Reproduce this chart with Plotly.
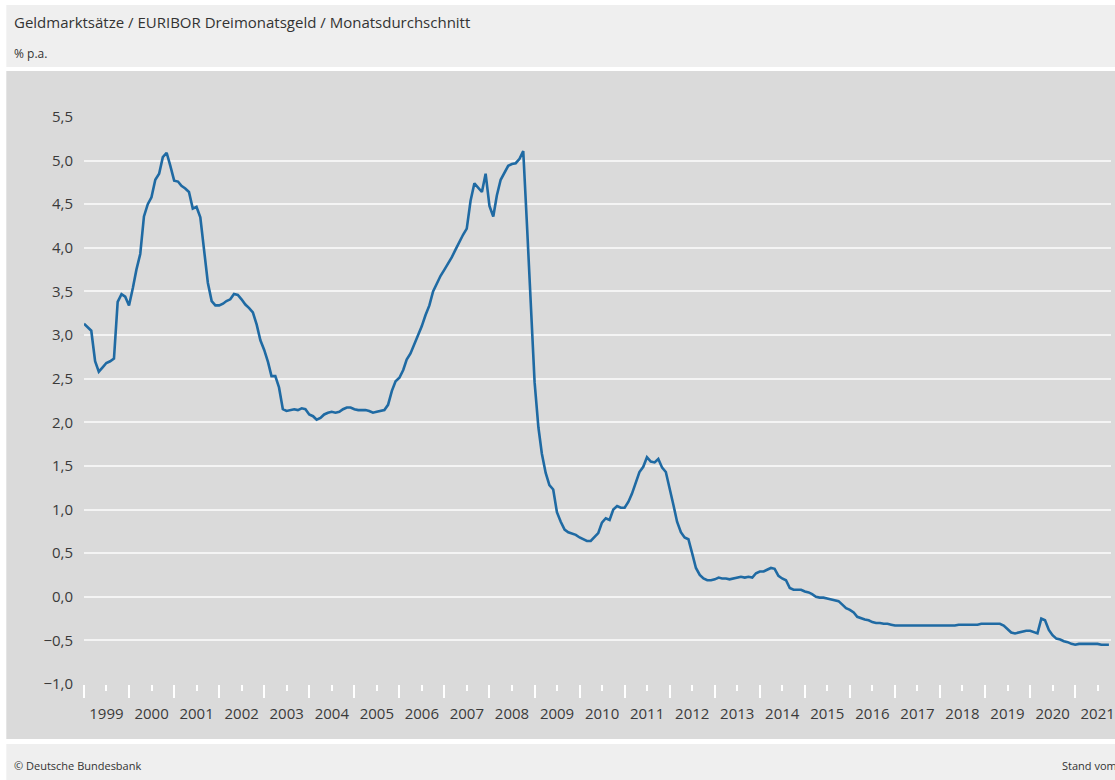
import pandas as pd
import plotly.graph_objects as go

# Monthly averages of 3-month EURIBOR, % p.a. (Jan 1999 onwards)
rates_1999_2004 = [
    3.13, 3.09, 3.05, 2.70, 2.58, 2.63, 2.68, 2.70, 2.73, 3.38, 3.47, 3.44,
    3.34, 3.54, 3.75, 3.93, 4.36, 4.50, 4.58, 4.78, 4.85, 5.04, 5.09, 4.94,
    4.77, 4.76, 4.71, 4.68, 4.64, 4.45, 4.47, 4.35, 3.98, 3.60, 3.39, 3.34,
    3.34, 3.36, 3.39, 3.41, 3.47, 3.46, 3.41, 3.35, 3.31, 3.26, 3.12, 2.94,
    2.83, 2.69, 2.53, 2.53, 2.40, 2.15, 2.13, 2.14, 2.15, 2.14, 2.16, 2.15,
    2.09, 2.07, 2.03, 2.05, 2.09, 2.11, 2.12, 2.11, 2.12, 2.15, 2.17, 2.17,
]
rates_2005_2010 = [
    2.15, 2.14, 2.14, 2.14, 2.13, 2.11, 2.12, 2.13, 2.14, 2.20, 2.36, 2.47,
    2.51, 2.60, 2.72, 2.79, 2.89, 2.99, 3.10, 3.23, 3.34, 3.50, 3.60, 3.68,
    3.75, 3.82, 3.89, 3.98, 4.07, 4.15, 4.22, 4.54, 4.74, 4.69, 4.64, 4.85,
    4.48, 4.36, 4.60, 4.78, 4.86, 4.94, 4.96, 4.97, 5.02, 5.11, 4.24, 3.29,
    2.46, 1.94, 1.64, 1.42, 1.28, 1.23, 0.97, 0.86, 0.77, 0.74, 0.72, 0.71,
    0.68, 0.66, 0.64, 0.64, 0.69, 0.73, 0.85, 0.90, 0.88, 1.00, 1.04, 1.02,
]
rates_2011_2016 = [
    1.02, 1.09, 1.18, 1.32, 1.43, 1.49, 1.60, 1.55, 1.54, 1.58, 1.48, 1.43,
    1.22, 1.05, 0.86, 0.74, 0.68, 0.66, 0.50, 0.33, 0.25, 0.21, 0.19, 0.19,
    0.20, 0.22, 0.21, 0.21, 0.20, 0.21, 0.22, 0.23, 0.22, 0.23, 0.22, 0.27,
    0.29, 0.29, 0.31, 0.33, 0.32, 0.24, 0.21, 0.19, 0.10, 0.08, 0.08, 0.08,
    0.06, 0.05, 0.03, 0.00, -0.01, -0.01, -0.02, -0.03, -0.04, -0.05, -0.09, -0.13,
    -0.15, -0.18, -0.23, -0.25, -0.26, -0.27, -0.29, -0.30, -0.30, -0.31, -0.31, -0.32,
]
rates_2017_2021 = [
    -0.33, -0.33, -0.33, -0.33, -0.33, -0.33, -0.33, -0.33, -0.33, -0.33, -0.33, -0.33,
    -0.33, -0.33, -0.33, -0.33, -0.33, -0.32, -0.32, -0.32, -0.32, -0.32, -0.32, -0.31,
    -0.31, -0.31, -0.31, -0.31, -0.31, -0.33, -0.37, -0.41, -0.42, -0.41, -0.40, -0.39,
    -0.39, -0.41, -0.42, -0.25, -0.27, -0.38, -0.44, -0.48, -0.49, -0.51, -0.52, -0.54,
    -0.55, -0.54, -0.54, -0.54, -0.54, -0.54, -0.54, -0.55, -0.55, -0.55,
]
rates = rates_1999_2004 + rates_2005_2010 + rates_2011_2016 + rates_2017_2021
months = pd.date_range("1999-01-01", periods=len(rates), freq="MS")

# Year labels sit in the middle of each year
years = list(range(1999, 2022))
year_mid = [f"{y}-07-02" for y in years]
year_labels = [str(y) for y in years]

title_text = "Geldmarktsätze / EURIBOR Dreimonatsgeld / Monatsdurchschnitt"
unit_text = "% p.a."
source_text = "© Deutsche Bundesbank"
stand_text = "Stand vom"

W, H = 1115, 780
L, R, T, B = 84, 0, 117, 96
pw, ph = W - L - R, H - T - B


def px_x(px):
    return (px - L) / pw


def px_y(py):
    return (H - B - py) / ph


FONT = "Open Sans, Noto Sans, sans-serif"
TXT = "#3a3a3a"

fig = go.Figure()
fig.add_trace(go.Scatter(
    x=months, y=rates, mode="lines",
    line=dict(color="#1f6aa3", width=2.6),
    hoverinfo="x+y", showlegend=False,
))

shapes = [
    dict(type="rect", xref="paper", yref="paper", layer="below",
         x0=px_x(6), x1=px_x(1130), y0=px_y(67), y1=px_y(5),
         fillcolor="#efefef", line=dict(width=0)),
    dict(type="rect", xref="paper", yref="paper", layer="below",
         x0=px_x(6), x1=px_x(1130), y0=px_y(739), y1=px_y(71),
         fillcolor="#dadada", line=dict(width=0)),
    dict(type="rect", xref="paper", yref="paper", layer="below",
         x0=px_x(6), x1=px_x(1130), y0=px_y(800), y1=px_y(744),
         fillcolor="#efefef", line=dict(width=0)),
]

annotations = [
    dict(text=title_text, xref="paper", yref="paper", x=px_x(12), y=px_y(22),
         xanchor="left", yanchor="middle", showarrow=False,
         font=dict(family=FONT, size=15, color="#333333")),
    dict(text=unit_text, xref="paper", yref="paper", x=px_x(12), y=px_y(53),
         xanchor="left", yanchor="middle", showarrow=False,
         font=dict(family=FONT, size=12, color="#333333")),
    dict(text=source_text, xref="paper", yref="paper", x=px_x(12), y=px_y(766),
         xanchor="left", yanchor="middle", showarrow=False,
         font=dict(family=FONT, size=11, color="#333333")),
    dict(text=stand_text, xref="paper", yref="paper", x=px_x(1064), y=px_y(766),
         xanchor="left", yanchor="middle", showarrow=False,
         font=dict(family=FONT, size=11, color="#333333")),
]

fig.update_layout(
    width=W, height=H,
    margin=dict(l=L, r=R, t=T, b=B, pad=0),
    paper_bgcolor="white",
    plot_bgcolor="rgba(0,0,0,0)",
    separators=",.",
    shapes=shapes,
    annotations=annotations,
    font=dict(family=FONT, size=15, color=TXT),
    showlegend=False,
)

fig.update_xaxes(
    type="date",
    range=["1999-01-01", "2021-10-18"],
    tickmode="array", tickvals=year_mid, ticktext=year_labels,
    ticks="outside", ticklen=6, tickwidth=2, tickcolor="white",
    ticklabelstandoff=10,
    ticklabeloverflow="allow",
    minor=dict(tick0="1999-01-01", dtick="M12", ticks="outside", ticklen=13,
               tickwidth=2, tickcolor="white", showgrid=False),
    showgrid=False, zeroline=False, showline=False,
    tickfont=dict(family=FONT, size=15, color=TXT),
)
fig.update_yaxes(
    range=[-1.0, 5.5],
    tick0=-1.0, dtick=0.5, tickformat=".1f",
    showgrid=True, gridcolor="#f4f4f4", gridwidth=1.5,
    zeroline=False, showline=False, ticks="",
    ticklabelstandoff=10,
    tickfont=dict(family=FONT, size=15, color=TXT),
)

fig.write_html(
    "out.html",
    config={"displayModeBar": False},
    post_script="document.body.style.margin='0';document.body.style.overflow='hidden';",
)
